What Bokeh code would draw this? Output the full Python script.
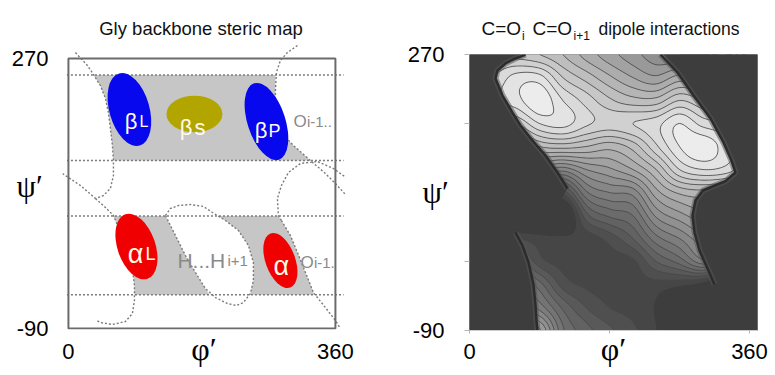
import numpy as np
from bokeh.plotting import figure
from bokeh.models import FixedTicker, Range1d
from bokeh.layouts import row, column
from bokeh.embed import file_html
from bokeh.resources import INLINE
from bokeh.core.properties import value

# ================= LEFT PANEL DATA (phi', psi' in degrees) =================
boundary_psi = [248, 134, 60, -45]
boundary_phi_extent = [-2, 371]

grey_upper_phi = [33.7, 279.1, 279.1, 279.1, 281.8, 303.4, 326.3, 60.7, 59.3, 56.6, 53.9, 49.9, 43.1]
grey_upper_psi = [248, 248, 227.3, 200.7, 176.7, 154, 134, 134, 154, 176.7, 198, 216.7, 234]
grey_lowl_phi = [60.7, 130.8, 144.3, 157.8, 171.2, 184.7, 190.1, 89.0, 89.0, 86.3, 79.5, 70.1]
grey_lowl_psi = [60, 60, 34, 7.3, -15.3, -36.7, -45, -45, -32.7, -10, 14, 38]
grey_lowr_phi = [201, 283.1, 287.2, 299.3, 308.8, 319.6, 330.3, 331.5, 244, 245.4, 249.4, 249.4, 242.7, 229.2, 211.7]
grey_lowr_psi = [60, 60, 54, 34, 11.3, -15.3, -42, -45, -45, -43.3, -26, -2, 20.7, 40.7, 54]

curve_a_phi = [9.4, 25.6, 33.7, 43.1, 49.9, 53.9, 56.6, 59.3, 60.7, 60.7, 56.6, 47.2, 36.4]
curve_a_psi = [278, 260.7, 248.7, 234, 216.7, 198, 176.7, 154, 134, 114, 96.7, 87.3, 83.3]
curve_a2_phi = [-8.1, 0, 16.2, 36.4]
curve_a2_psi = [116.7, 111.3, 100.7, 83.3]
curve_b_phi = [36.4, 48.5, 60.7, 70.1, 79.5, 86.3, 89.0, 89.0, 86.3, 76.9, 59.3, 43.1, 37.8]
curve_b_psi = [83.3, 72.7, 60.7, 38, 14, -10, -32.7, -52.7, -70, -80.7, -84.7, -82, -79.3]
curve_c_phi = [308.8, 295.3, 285.8, 280.4, 279.1, 279.1, 281.8]
curve_c_psi = [287.3, 278, 267.3, 251.3, 227.3, 200.7, 176.7]
curve_d1_phi = [281.8, 303.4, 326.3, 346.5, 360, 373.5]
curve_d1_psi = [176.7, 154, 134, 116.7, 103.3, 88.7]
curve_e_phi = [376.2, 357.3, 335.7, 312.8, 296.6, 287.2, 281.8, 283.1, 287.2]
curve_e_psi = [110, 123.3, 132.7, 130, 118, 100.7, 83.3, 60.7, 54]
curve_d2_phi = [287.2, 299.3, 308.8, 319.6, 330.3, 346.5, 360, 366.7]
curve_d2_psi = [54, 34, 11.3, -15.3, -42, -62, -79.3, -90]
hh_phi = [130.8, 137.5, 148.3, 164.5, 182.0, 194.2, 211.7, 229.2, 242.7, 249.4, 249.4, 245.4, 236.0,
          226.5, 214.4, 198.2, 184.7, 171.2, 157.8, 144.3, 130.8]
hh_psi = [60.7, 70, 74, 75.3, 72.7, 64.7, 54, 40.7, 20.7, -2, -26, -43.3, -55.3,
          -59.3, -56.7, -48.7, -36.7, -15.3, 7.3, 34, 60.7]

region_names = ["βL", "βs", "βP", "αL", "α"]
region_phi = [82.2, 169.9, 267.0, 91.7, 285.8]
region_psi = [202.0, 196.0, 186.0, 19.3, 0.7]
region_w = [54, 75.5, 51, 51, 40]
region_h = [100, 49, 107, 91, 77]
region_tilt_deg = [16, 0, 18, 19, 20]
region_colors = ["#0808ee", "#b3a500", "#0808ee", "#f00000", "#f00000"]

# ================= RIGHT PANEL DATA =================
phi_grid = [0, 30, 60, 90, 120, 150, 180, 210, 240, 270, 300, 330, 360]
psi_grid_top_down = [270, 240, 210, 180, 150, 120, 90, 60, 30, 0, -30, -60, -90]
# relative dipole-interaction level read from the grey tones (1 = lightest); one list per phi column,
# values from psi = 270 (top) down to psi = -90
dipole_cols = [
    [0.75, 0.80, 0.82, 0.75, 0.50, 0.25, 0.00, -0.10, 0.14, 0.30, 0.42, 0.52, 0.62],   # phi 0
    [0.78, 0.85, 0.88, 0.80, 0.55, 0.30, 0.05, -0.10, 0.12, 0.28, 0.40, 0.50, 0.60],   # 30
    [0.78, 0.92, 0.93, 0.80, 0.60, 0.35, 0.10, -0.10, 0.10, 0.25, 0.38, 0.48, 0.58],   # 60
    [0.75, 0.92, 0.99, 0.90, 0.70, 0.45, 0.15, -0.10, 0.07, 0.12, 0.27, 0.38, 0.56],   # 90
    [0.70, 0.80, 0.90, 0.92, 0.72, 0.42, 0.12, -0.10, 0.06, 0.08, 0.13, 0.24, 0.31],   # 120
    [0.63, 0.73, 0.83, 0.86, 0.70, 0.50, 0.34, 0.18, 0.07, 0.07, 0.09, 0.15, 0.22],    # 150
    [0.57, 0.66, 0.76, 0.83, 0.67, 0.54, 0.40, 0.26, 0.12, 0.08, 0.08, 0.10, 0.16],    # 180
    [0.52, 0.60, 0.72, 0.85, 0.72, 0.60, 0.42, 0.30, 0.20, 0.09, 0.08, 0.08, 0.11],    # 210
    [0.47, 0.56, 0.72, 0.88, 0.84, 0.70, 0.58, 0.46, 0.33, 0.20, 0.08, 0.04, 0.05],    # 240
    [0.45, 0.62, 0.80, 0.95, 0.95, 0.85, 0.66, 0.53, 0.40, 0.27, 0.06, -0.10, -0.10],  # 270
    [0.45, 0.60, 0.75, 0.88, 0.99, 0.90, 0.68, 0.58, 0.48, 0.38, 0.02, -0.10, -0.10],  # 300
    [0.45, 0.55, 0.72, 0.85, 0.92, 0.88, 0.65, 0.55, 0.45, 0.35, -0.10, -0.10, -0.10], # 330
    [0.45, 0.55, 0.70, 0.80, 0.85, 0.80, 0.60, 0.50, 0.40, 0.30, -0.10, -0.10, -0.10], # 360
]
# sterically allowed band (outside is blanked)
band_phi = [72.0, 245.6, 267.4, 288.0, 309.9, 326.6, 336.8, 342.0, 329.1, 312.4, 300.0, 290.6, 286.7,
            289.3, 295.7, 306.0, 315.0, 317.6, 317.6, 87.4, 86.1, 84.9, 82.3, 75.9, 68.1, 59.1,
            91.3, 117.0, 126.0, 113.1, 97.7, 81.0, 65.6, 55.3, 42.4, 33.4, 36.0, 46.3, 59.1]
band_psi = [275, 275, 246.5, 216.5, 186.5, 155.2, 131.7, 116.1, 104.8, 97.8, 92.6, 79.6, 60.0,
            37.8, 14.3, -9.1, -30.0, -50.9, -96.5, -96.5, -77.0, -57.4, -30.0, -1.3, 20.9, 37.8,
            60.0, 79.6, 95.2, 116.1, 138.3, 157.8, 177.4, 194.3, 216.5, 238.7, 249.1, 258.3, 264.8]
cliff1_phi = [126.0, 113.1, 97.7, 81.0, 65.6, 55.3, 42.4, 33.4, 36.0, 46.3, 59.1, 72.0]
cliff1_psi = [95.2, 116.1, 138.3, 157.8, 177.4, 194.3, 216.5, 238.7, 249.1, 258.3, 264.8, 270]
cliff2_phi = [245.6, 267.4, 288.0, 309.9, 326.6, 336.8, 342.0, 329.1, 312.4, 300.0, 290.6, 286.7,
              289.3, 295.7, 306.0, 315.0]
cliff2_psi = [270, 246.5, 216.5, 186.5, 155.2, 131.7, 116.1, 104.8, 97.8, 92.6, 79.6, 60.0,
              37.8, 14.3, -9.1, -30.0]
cliff3_phi = [59.1, 68.1, 75.9, 82.3, 84.9, 86.1, 87.4]
cliff3_psi = [37.8, 20.9, -1.3, -30.0, -57.4, -77.0, -90.0]

SANS = "Liberation Sans"
SERIF = "Liberation Serif"


def no_frame_align(p):
    try:
        p.frame_align = False
    except Exception:
        pass


# ================= TITLE STRIP (pixel units) =================
p0 = figure(width=775, height=43, x_range=Range1d(0, 775), y_range=Range1d(43, 0),
            output_backend="svg", toolbar_location=None, title_location=None,
            x_axis_location=None, y_axis_location=None,
            min_border_left=0, min_border_right=0, min_border_top=0, min_border_bottom=0)
p0.outline_line_color = None
p0.grid.visible = False
no_frame_align(p0)
title_parts = [("Gly backbone steric map", 200.5, 28.3, "18.5px", "center"),
               ("C=O", 481.0, 28.3, "19px", "left"), ("i", 521.5, 35.5, "12px", "left"),
               ("C=O", 532.0, 28.3, "19px", "left"), ("i+1", 573.0, 35.5, "12px", "left"),
               ("dipole interactions", 598.0, 28.3, "17.5px", "left")]
for s, x, y, fs, al in title_parts:
    p0.text(x=[x], y=[y], text=[s], text_color="#111111", text_font=value(SANS),
            text_font_size=value(fs), text_align=al, text_baseline="alphabetic")

# ================= LEFT FIGURE =================
p1 = figure(width=396, height=332, x_range=Range1d(-8, 373.6), y_range=Range1d(-91.33, 290),
            output_backend="svg", toolbar_location=None, title_location=None,
            min_border_left=62, min_border_right=51, min_border_top=0, min_border_bottom=46)
p1.outline_line_color = None
p1.grid.visible = False
no_frame_align(p1)

grey = "#c6c6c6"
p1.patch(grey_upper_phi, grey_upper_psi, fill_color=grey, line_color=None)
p1.patch(grey_lowl_phi, grey_lowl_psi, fill_color=grey, line_color=None)
p1.patch(grey_lowr_phi, grey_lowr_psi, fill_color=grey, line_color=None)

dot = dict(line_color="#7a7a7a", line_width=1.4, line_dash="2 2")
p1.multi_line([boundary_phi_extent] * len(boundary_psi), [[v, v] for v in boundary_psi], **dot)
for cx, cy in [(curve_a_phi, curve_a_psi), (curve_a2_phi, curve_a2_psi), (curve_b_phi, curve_b_psi),
               (curve_c_phi, curve_c_psi), (curve_d1_phi, curve_d1_psi), (curve_e_phi, curve_e_psi),
               (curve_d2_phi, curve_d2_psi), (hh_phi, hh_psi)]:
    p1.line(cx, cy, **dot)

p1.ellipse(x=region_phi, y=region_psi, width=region_w, height=region_h,
           angle=[np.deg2rad(a) for a in region_tilt_deg],
           fill_color=region_colors, line_color=None)

txt = "#fffbe8"
p1.text(x=[93.0, 167.2, 268.3], y=[186, 178.4, 174], text=["β", "β", "β"], text_color=txt,
        text_font=value(SANS), text_font_size=value("22px"), text_align="right", text_baseline="alphabetic")
p1.text(x=[101.1], y=[8.7], text=["α"], text_color=txt,
        text_font=value(SANS), text_font_size=value("27px"), text_align="right", text_baseline="alphabetic")
p1.text(x=[287.2], y=[-7.3], text=["α"], text_color=txt,
        text_font=value(SANS), text_font_size=value("27px"), text_align="center", text_baseline="alphabetic")
for s, x, y, fs in [("L", 95.7, 186, "16px"), ("s", 169.9, 178.4, "22px"),
                    ("P", 269.7, 174, "18px"), ("L", 103.8, 8.7, "18px")]:
    p1.text(x=[x], y=[y], text=[s], text_color=txt, text_font=value(SANS),
            text_font_size=value(fs), text_align="left", text_baseline="alphabetic")

gtxt = "#8a8a8a"
for s, x, y, fs in [("O", 303.4, 186, "17px"), ("i-1..", 321.6, 186, "15px"),
                    ("H...H", 147.0, 0.7, "21px"), ("i+1", 214.5, 0.7, "15px"),
                    ("O", 312.8, -2, "17px"), ("i-1.", 331.0, -2, "15px")]:
    p1.text(x=[x], y=[y], text=[s], text_color=gtxt, text_font=value(SANS),
            text_font_size=value(fs), text_align="left", text_baseline="alphabetic")

p1.quad(left=[0], right=[360], bottom=[-90], top=[270], fill_color=None,
        line_color="#6b6b6b", line_width=2)

for ax in (p1.xaxis[0], p1.yaxis[0]):
    ax.axis_line_color = None
    ax.major_tick_line_color = None
    ax.minor_tick_line_color = None
    ax.major_tick_out = 0
    ax.major_tick_in = 0
    ax.major_label_text_font = SANS
    ax.major_label_text_font_size = "22px"
    ax.major_label_text_color = "black"
    ax.axis_label_text_font = SERIF
    ax.axis_label_text_font_style = "normal"
    ax.axis_label_text_color = "black"
p1.xaxis.ticker = FixedTicker(ticks=[0, 360])
p1.yaxis.ticker = FixedTicker(ticks=[-90, 270])
p1.yaxis.major_label_overrides = {-90: "-90"}
p1.xaxis.major_label_standoff = 14
p1.yaxis.major_label_standoff = 14
p1.xaxis.axis_label = "φ′"
p1.xaxis.axis_label_text_font_size = "32px"
p1.xaxis.axis_label_standoff = -31
p1.yaxis.axis_label = "ψ′"
p1.yaxis.axis_label_text_font_size = "31px"
p1.yaxis.axis_label_orientation = "horizontal"
p1.yaxis.axis_label_standoff = -34

# ================= RIGHT FIGURE =================
dark = "#3d3d3d"
p2 = figure(width=379, height=332, x_range=Range1d(0, 370.3), y_range=Range1d(-90, 270),
            output_backend="svg", toolbar_location=None, title_location=None,
            min_border_left=73, min_border_right=18, min_border_top=11, min_border_bottom=45)
p2.outline_line_color = None
p2.grid.visible = False
p2.background_fill_color = dark
no_frame_align(p2)


def catmull_rom(n, m):
    t = np.linspace(0, n - 1, m)
    M = np.zeros((m, n))
    for r, tt in enumerate(t):
        i = min(int(np.floor(tt)), n - 2)
        u = tt - i
        w = [(-u**3 + 2*u**2 - u) / 2, (3*u**3 - 5*u**2 + 2) / 2,
             (-3*u**3 + 4*u**2 + u) / 2, (u**3 - u**2) / 2]
        for k, idx in enumerate([i - 1, i, i + 1, i + 2]):
            M[r, min(max(idx, 0), n - 1)] += w[k]
    return M


Z = np.array(dipole_cols).T[::-1]            # rows: psi ascending, columns: phi ascending
psi_grid = psi_grid_top_down[::-1]
nf = 145
Zf = catmull_rom(len(psi_grid), nf) @ Z @ catmull_rom(len(phi_grid), nf).T
PX, PY = np.meshgrid(np.linspace(phi_grid[0], phi_grid[-1], nf), np.linspace(psi_grid[0], psi_grid[-1], nf))

levels = [-1.0] + [round(0.05 * k, 2) for k in range(1, 20)] + [1.3]
nb = len(levels) - 1
tones = [int(round(61 + 175 * k / (nb - 1))) for k in range(nb)]
colors = ["#%02x%02x%02x" % (t, t, t) for t in tones]
p2.contour(x=PX, y=PY, z=Zf, levels=levels, fill_color=colors, line_color="#4a4a4a", line_width=0.8)

outer_phi = [-10, 380, 380, -10]
outer_psi = [-100, -100, 280, 280]
p2.multi_polygons(xs=[[[outer_phi, band_phi]]], ys=[[[outer_psi, band_psi]]],
                  fill_color=dark, line_color=None)
cl_x = [cliff1_phi, cliff2_phi, cliff3_phi]
cl_y = [cliff1_psi, cliff2_psi, cliff3_psi]
p2.multi_line(cl_x, cl_y, line_color="#555555", line_width=6, line_alpha=0.55)
p2.multi_line(cl_x, cl_y, line_color="#2c2c2c", line_width=2.5)

p2.xaxis.ticker = FixedTicker(ticks=[0, 180, 360])
p2.xaxis.major_label_overrides = {180: ""}
p2.yaxis.ticker = FixedTicker(ticks=[-90, 0, 180, 270])
p2.yaxis.major_label_overrides = {0: "", 180: "", -90: "-90"}
for ax in (p2.xaxis[0], p2.yaxis[0]):
    ax.minor_tick_line_color = None
    ax.major_tick_in = 0
    ax.major_tick_line_color = "#b5b5b5"
    ax.major_label_text_font = SANS
    ax.major_label_text_font_size = "22px"
    ax.major_label_text_color = "black"
    ax.axis_label_text_font = SERIF
    ax.axis_label_text_font_style = "normal"
    ax.axis_label_text_color = "black"
p2.xaxis.axis_line_color = "#cccccc"
p2.xaxis.major_tick_out = 3
p2.xaxis.major_label_standoff = 10
p2.yaxis.axis_line_color = None
p2.yaxis.major_tick_out = 5
p2.yaxis.major_label_standoff = 20
p2.xaxis.axis_label = "φ′"
p2.xaxis.axis_label_text_font_size = "32px"
p2.xaxis.axis_label_standoff = -31
p2.yaxis.axis_label = "ψ′"
p2.yaxis.axis_label_text_font_size = "31px"
p2.yaxis.axis_label_orientation = "horizontal"
p2.yaxis.axis_label_standoff = -44

layout = column(p0, row(p1, p2))
with open("out.html", "w", encoding="utf-8") as f:
    f.write(file_html(layout, INLINE))
